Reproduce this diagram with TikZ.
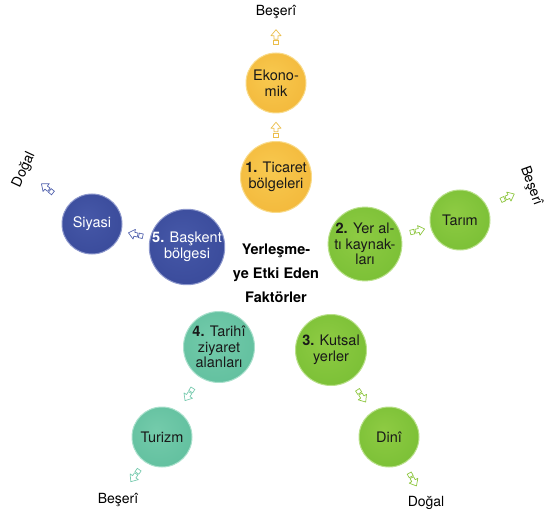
\documentclass[tikz,border=0pt]{standalone}
\usepackage{fontspec}
\setmainfont{TeX Gyre Heros}
\definecolor{yIn}{HTML}{F8C94F}
\definecolor{yMid}{HTML}{F3B93C}
\definecolor{yOut}{HTML}{E7A027}
\definecolor{yRim}{HTML}{F9DB8A}
\definecolor{yArr}{HTML}{EBBE4C}
\definecolor{gIn}{HTML}{8ECB43}
\definecolor{gMid}{HTML}{7BC036}
\definecolor{gOut}{HTML}{5EA728}
\definecolor{gRim}{HTML}{B9E08A}
\definecolor{gArr}{HTML}{8DC63F}
\definecolor{bIn}{HTML}{4658A8}
\definecolor{bMid}{HTML}{3A4B9B}
\definecolor{bOut}{HTML}{2A3782}
\definecolor{bRim}{HTML}{8C97CC}
\definecolor{bArr}{HTML}{5363AE}
\definecolor{tIn}{HTML}{74CBAB}
\definecolor{tMid}{HTML}{62C09F}
\definecolor{tOut}{HTML}{45AA88}
\definecolor{tRim}{HTML}{A9E0CC}
\definecolor{tArr}{HTML}{7ACBB0}
\pgfdeclareradialshading{ballY}{\pgfpoint{-5bp}{6bp}}{color(0bp)=(yIn); color(30bp)=(yMid); color(50bp)=(yOut)}
\pgfdeclareradialshading{ballG}{\pgfpoint{-5bp}{6bp}}{color(0bp)=(gIn); color(30bp)=(gMid); color(50bp)=(gOut)}
\pgfdeclareradialshading{ballB}{\pgfpoint{-5bp}{6bp}}{color(0bp)=(bIn); color(30bp)=(bMid); color(50bp)=(bOut)}
\pgfdeclareradialshading{ballT}{\pgfpoint{-5bp}{6bp}}{color(0bp)=(tIn); color(30bp)=(tMid); color(50bp)=(tOut)}
\tikzset{
  ball/.style={circle, inner sep=0pt, align=center, line width=1pt,
    font=\fontsize{14.5}{15.5}\selectfont, text=black!90},
  bigball/.style={ball, minimum size=71pt},
  smallball/.style={ball, minimum size=60pt},
  yb/.style={shading=ballY, draw=yRim},
  gb/.style={shading=ballG, draw=gRim},
  bb/.style={shading=ballB, draw=bRim, text=white},
  tb/.style={shading=ballT, draw=tRim},
  lbl/.style={inner sep=1pt, font=\fontsize{14}{16}\selectfont},
  farrow/.pic={
    \draw[line width=0.7pt, line join=round, pic actions]
      (7.5,0) -- (1.5,5) -- (1.5,2) -- (-2,2) -- (-2,-2) -- (1.5,-2) -- (1.5,-5) -- cycle;
    \draw[line width=0.7pt, pic actions] (-3.2,-2.3) rectangle (-7.2,2.3);
  }
}
\begin{document}
\begin{tikzpicture}[x=1pt, y=-1pt, allow upside down]
\useasboundingbox (0,0) rectangle (548,518);
% circles
\node[smallball, yb] (eko) at (276,83) {Ekono-\\mik};
\node[bigball, yb] (tic) at (276,177) {\textbf{1.} Ticaret\\bölgeleri};
\node[bigball, gb] (yer) at (365,244) {\textbf{2.} Yer al-\\tı kaynak-\\ları};
\node[smallball, gb] (tar) at (460,220) {Tarım};
\node[bigball, bb] (bas) at (187,247) {\textbf{5.} Başkent\\bölgesi};
\node[smallball, bb] (siy) at (92,224) {Siyasi};
\node[bigball, tb] (trh) at (219,347) {\textbf{4.} Tarihî\\ziyaret\\alanları};
\node[smallball, tb] (tur) at (162,437) {Turizm};
\node[bigball, gb] (kut) at (331,350) {\textbf{3.} Kutsal\\yerler};
\node[smallball, gb] (din) at (389,437) {Dinî};
% centre title
\node[align=center, font=\bfseries\fontsize{14.5}{24}\selectfont] (title) at (276,273)
  {Yerleşme-\\ye Etki Eden\\Faktörler};
% outer labels
\node[lbl] (bT) at (276,12) {Beşerî};
\node[lbl, rotate=65] (dL) at (24,170) {Doğal};
\node[lbl, rotate=-70] (bR) at (531,186) {Beşerî};
\node[lbl] (bB) at (118,500) {Beşerî};
\node[lbl] (dB) at (426,503) {Doğal};
% arrows
\path (tic) -- (eko) pic[pos=.41, sloped, draw=yArr]{farrow};
\path (eko) -- (bT) pic[pos=.47, sloped, draw=yArr]{farrow};
\path (yer) -- (tar) pic[pos=.55, sloped, draw=gArr]{farrow};
\path (tar) -- (bR) pic[pos=.55, sloped, draw=gArr]{farrow};
\path (bas) -- (siy) pic[pos=.5, sloped, draw=bArr]{farrow};
\path (siy) -- (dL) pic[pos=.55, sloped, draw=bArr]{farrow};
\path (trh) -- (tur) pic[pos=.5, sloped, draw=tArr]{farrow};
\path (tur) -- (bB) pic[pos=.45, sloped, draw=tArr]{farrow};
\path (kut) -- (din) pic[pos=.5, sloped, draw=gArr]{farrow};
\path (din) -- (dB) pic[pos=.5, sloped, draw=gArr]{farrow};
\end{tikzpicture}
\end{document}
